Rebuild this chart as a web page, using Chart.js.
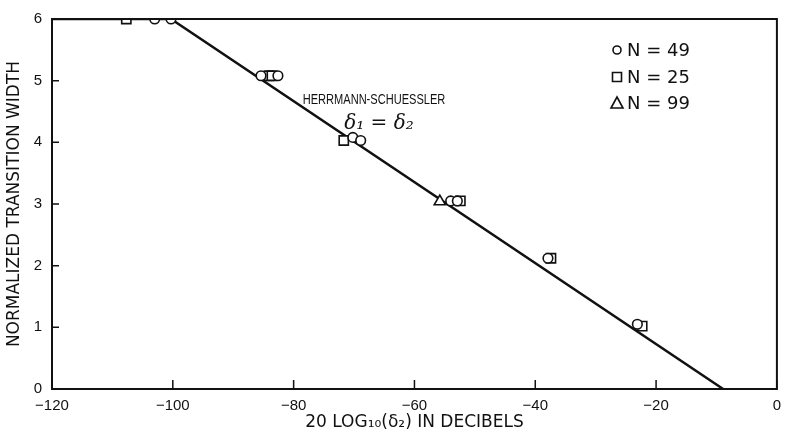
<!DOCTYPE html>
<html>
<head>
<meta charset="utf-8">
<script src="https://cdn.jsdelivr.net/npm/chart.js@4"></script>
<style>
  html, body { margin: 0; padding: 0; background: #fff; }
  #wrap { width: 785px; height: 433px; }
</style>
</head>
<body>
<div id="wrap"><canvas id="chart" width="785" height="433"></canvas></div>
<script>
// fitted design line (Herrmann-Schuessler, d1 = d2)
const fitX = [-120, -100.3, -8.9];
const fitY = [6, 6, 0];

// N = 49 (circles)
const n49X = [-103.0, -100.3, -85.4, -82.6, -70.2, -68.9, -54.0, -52.9, -37.9, -23.1];
const n49Y = [6, 6, 5.08, 5.08, 4.08, 4.03, 3.05, 3.05, 2.12, 1.05];

// N = 25 (squares)
const n25X = [-107.7, -84.1, -83.6, -71.7, -52.4, -37.4, -22.3];
const n25Y = [6, 5.08, 5.08, 4.03, 3.05, 2.12, 1.02];

// N = 99 (triangle)
const n99X = [-55.8];
const n99Y = [3.04];

const xTicks = [-120, -100, -80, -60, -40, -20, 0];
const yTicks = [0, 1, 2, 3, 4, 5, 6];

const FONT = "'Liberation Sans', 'DejaVu Sans', sans-serif";
const WIDE = "'DejaVu Sans', sans-serif";
const INK = '#111';

function pts(xs, ys) {
    return xs.map((x, i) => ({ x: x, y: ys[i] }));
}

// frame, inward ticks and in-plot texts
const paperPlugin = {
    id: 'paper',
    afterDatasetsDraw(chart) {
        const ctx = chart.ctx;
        const a = chart.chartArea;
        const xs = chart.scales.x;
        const ys = chart.scales.y;
        ctx.save();
        ctx.strokeStyle = INK;
        ctx.lineWidth = 2;
        ctx.strokeRect(a.left, a.top, a.right - a.left, a.bottom - a.top);

        ctx.lineWidth = 1.5;
        ctx.beginPath();
        xTicks.forEach(v => {
            const px = xs.getPixelForValue(v);
            ctx.moveTo(px, a.bottom);
            ctx.lineTo(px, a.bottom - 9);
        });
        yTicks.forEach(v => {
            const py = ys.getPixelForValue(v);
            ctx.moveTo(a.left, py);
            ctx.lineTo(a.left + 7, py);
        });
        ctx.stroke();

        ctx.fillStyle = INK;
        ctx.textBaseline = 'middle';
        ctx.textAlign = 'center';
        // condensed lettering
        ctx.save();
        ctx.translate(374, 100);
        ctx.scale(0.79, 1);
        ctx.font = '14px ' + FONT;
        ctx.fillText('HERRMANN-SCHUESSLER', 0, 0);
        ctx.restore();
        ctx.font = "italic 20px 'DejaVu Serif', serif";
        ctx.fillText('\u03b4\u2081 = \u03b4\u2082', 379, 124);

        // legend entries
        const legend = [
            { label: 'N = 49', style: 'circle', y: 50 },
            { label: 'N = 25', style: 'rect', y: 77 },
            { label: 'N = 99', style: 'triangle', y: 103 }
        ];
        ctx.font = '18px ' + WIDE;
        ctx.textAlign = 'left';
        legend.forEach(item => {
            ctx.lineWidth = 1.6;
            ctx.beginPath();
            if (item.style === 'circle') {
                ctx.arc(617, item.y, 4, 0, Math.PI * 2);
            } else if (item.style === 'rect') {
                ctx.rect(612.5, item.y - 4.5, 9, 9);
            } else {
                ctx.moveTo(617, item.y - 6);
                ctx.lineTo(623, item.y + 5);
                ctx.lineTo(611, item.y + 5);
                ctx.closePath();
            }
            ctx.stroke();
            ctx.fillText(item.label, 627, item.y + 1);
        });
        ctx.restore();
    }
};

const markerBase = {
    showLine: false,
    backgroundColor: '#fff',
    borderColor: INK,
    pointBorderWidth: 1.6,
    pointBackgroundColor: '#fff',
    pointBorderColor: INK
};

new Chart(document.getElementById('chart'), {
    type: 'scatter',
    data: {
        datasets: [
            {
                label: 'design',
                data: pts(fitX, fitY),
                showLine: true,
                borderColor: INK,
                borderWidth: 2.5,
                pointRadius: 0,
                order: 2
            },
            Object.assign({
                label: 'N = 25',
                data: pts(n25X, n25Y),
                pointStyle: 'rect',
                pointRadius: 6.5,
                order: 1
            }, markerBase),
            Object.assign({
                label: 'N = 49',
                data: pts(n49X, n49Y),
                pointStyle: 'circle',
                pointRadius: 4.8,
                order: 0
            }, markerBase),
            Object.assign({
                label: 'N = 99',
                data: pts(n99X, n99Y),
                pointStyle: 'triangle',
                pointRadius: 6.5,
                order: 0
            }, markerBase)
        ]
    },
    options: {
        responsive: false,
        animation: false,
        layout: { padding: { top: 19, right: 4, left: 0, bottom: 0 } },
        plugins: {
            legend: { display: false },
            tooltip: { enabled: false }
        },
        scales: {
            x: {
                type: 'linear',
                min: -120,
                max: 0,
                afterBuildTicks: s => { s.ticks = xTicks.map(v => ({ value: v })); },
                afterFit: s => { s.height = 44; s.paddingLeft = 0; s.paddingRight = 0; },
                grid: { display: false, drawTicks: false },
                border: { display: false },
                ticks: {
                    color: INK,
                    padding: 8,
                    maxRotation: 0,
                    font: { family: FONT, size: 15 },
                    callback: v => v === 0 ? '0' : '\u2212' + Math.abs(v)
                },
                title: {
                    display: true,
                    text: '20 LOG\u2081\u2080(\u03b4\u2082) IN DECIBELS',
                    color: INK,
                    padding: { top: 0, bottom: 0 },
                    font: { family: WIDE, size: 17 }
                }
            },
            y: {
                type: 'linear',
                min: 0,
                max: 6,
                afterBuildTicks: s => { s.ticks = yTicks.map(v => ({ value: v })); },
                afterFit: s => { s.width = 52; s.paddingTop = 0; s.paddingBottom = 0; },
                grid: { display: false, drawTicks: false },
                border: { display: false },
                ticks: {
                    color: INK,
                    padding: 10,
                    font: { family: FONT, size: 15 }
                },
                title: {
                    display: true,
                    text: 'NORMALIZED TRANSITION WIDTH',
                    color: INK,
                    padding: { top: 4, bottom: 4 },
                    font: { family: WIDE, size: 17 }
                }
            }
        }
    },
    plugins: [paperPlugin]
});
</script>
</body>
</html>
